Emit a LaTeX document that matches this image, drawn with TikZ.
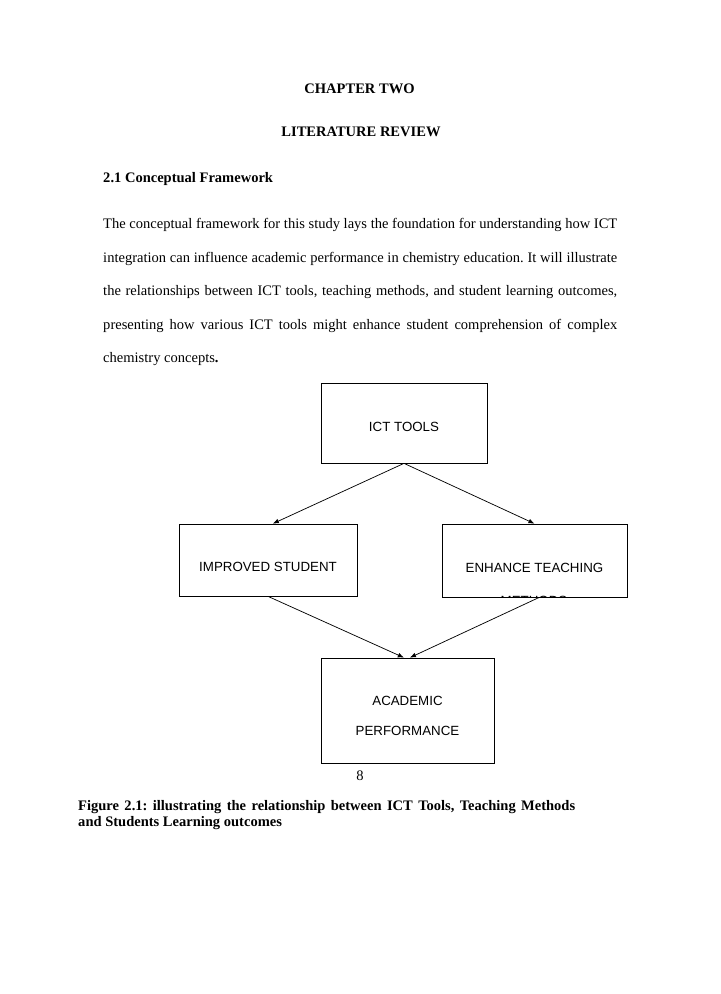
\documentclass[tikz,border=0pt]{standalone}
\usepackage{fontspec}
\setmainfont{Liberation Serif}
\newfontfamily\boxfont{Liberation Sans}
\usetikzlibrary{arrows.meta}

\tikzset{
  box/.style={draw, line width=0.6pt, font=\boxfont\fontsize{11}{24.8}\selectfont, align=center},
  heading/.style={font=\bfseries\fontsize{12}{14}\selectfont, inner sep=0pt}
}

\begin{document}
\frenchspacing
\hyphenpenalty=10000
\begin{tikzpicture}[x=0.8264pt, y=-0.8264pt, >={Latex[length=5pt,width=4pt]}]

\useasboundingbox [fill=white] (0, 0) rectangle (720, 994);

% page text
\node [heading, anchor=base] (chapter) at (359.5, 93.3) {CHAPTER TWO};
\node [heading, anchor=base] (review) at (361, 137) {LITERATURE REVIEW};
\node [heading, anchor=base west] (section) at (103, 183) {2.1 Conceptual Framework};
\node [anchor=north west, inner sep=0pt, text width=424.8pt, align=justify,
       font=\fontsize{12}{27.6}\selectfont] (para) at (103, 218.4)
  {The conceptual framework for this study lays the foundation for understanding how ICT\linebreak
   integration can influence academic performance in chemistry education. It will illustrate\linebreak
   the relationships between ICT tools, teaching methods, and student learning outcomes,\linebreak
   presenting how various ICT tools might enhance student comprehension of complex\linebreak
   chemistry concepts\textbf{.}};

% boxes
\node [box, minimum width=137.2pt, minimum height=66.1pt, text height=14pt] (ict) at (404, 423) {ICT TOOLS};
\node [box, minimum width=147.1pt, minimum height=59.5pt, text height=19.4pt] (student) at (268, 560) {IMPROVED STUDENT};
\node [box, minimum width=152.9pt, minimum height=60.3pt, text height=19.4pt] (enhance) at (534.5, 560.5) {ENHANCE TEACHING};
\node [box, minimum width=143pt, minimum height=86.8pt, text height=41pt] (academic) at (407.5, 710.5) {ACADEMIC\\PERFORMANCE};

% second line of the teaching box, cut off by its border
\begin{scope}
\clip (442, 524) rectangle (627, 597);
\node [anchor=north, inner sep=0pt, font=\boxfont\fontsize{11}{13}\selectfont] (methods) at (534, 595.5) {METHODS};
\end{scope}

% arrows
\draw [->, line width=0.6pt] (ict.south) -- ([xshift=4pt]student.north);
\draw [->, line width=0.6pt] (ict.south) -- (enhance.north);
\draw [->, line width=0.6pt] (student.south) -- ([xshift=-3pt]academic.north);
\draw [->, line width=0.6pt] ([xshift=4pt]enhance.south) -- ([xshift=2pt]academic.north);

% page number and caption
\node [anchor=base, inner sep=0pt, font=\fontsize{12}{14}\selectfont] (page) at (360, 780) {8};
\node [anchor=north west, inner sep=0pt, text width=410.7pt, align=justify,
       font=\bfseries\fontsize{12}{13.2}\selectfont] (caption) at (78, 800.3)
  {Figure 2.1: illustrating the relationship between ICT Tools, Teaching Methods\linebreak
   and Students Learning outcomes};

\end{tikzpicture}
\end{document}
